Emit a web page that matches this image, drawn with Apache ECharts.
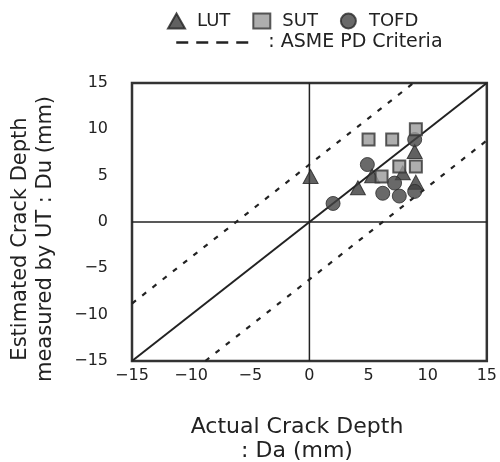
<!DOCTYPE html>
<html>
<head>
<meta charset="utf-8">
<script src="https://cdn.jsdelivr.net/npm/echarts@6/dist/echarts.min.js"></script>
<style>html,body{margin:0;padding:0;background:#fff}#c{width:500px;height:462px}</style>
</head>
<body>
<div id="c"></div>
<script>
// Axis range and ticks
var axisMin = -15, axisMax = 15, tickStep = 5;
// Measured points [Da, Du]
var lutData  = [[0.1, 4.9], [4.1, 3.7], [5.3, 5.0], [8.9, 7.6], [9.0, 4.3], [7.9, 5.3]];
var sutData  = [[5.0, 8.9], [7.0, 8.9], [9.0, 10.0], [7.6, 6.0], [9.0, 6.0], [6.1, 4.9]];
var tofdData = [[2.0, 2.0], [4.9, 6.2], [8.9, 8.9], [6.2, 3.1], [7.6, 2.8], [7.2, 4.2], [8.9, 3.3]];
// Reference lines
var equalLine = [[-15, -15], [15, 15]];
var pdUpper   = [[-15, -8.8], [8.8, 15]];
var pdLower   = [[-8.8, -15], [15, 8.8]];
var zeroH     = [[-15, 0], [15, 0]];
var zeroV     = [[0, -15], [0, 15]];

var FONT = 'DejaVu Sans';
var chart = echarts.init(document.getElementById('c'), null, {renderer: 'canvas'});
function minusFmt(v) { return String(v).replace('-', '\u2212'); }
function refLine(name, data, type, width) {
  return {name: name, type: 'line', data: data, symbol: 'none', showSymbol: false, silent: true, z: 1,
    itemStyle: {color: '#222'},
    lineStyle: {color: '#222', width: width, type: type}, animation: false};
}
chart.setOption({
  animation: false,
  grid: {left: 132, right: 10, top: 83, bottom: 101, show: true, borderColor: '#333', borderWidth: 2.5, backgroundColor: 'transparent'},
  xAxis: {type: 'value', min: axisMin, max: axisMax, interval: tickStep,
    axisLine: {show: false}, axisTick: {show: false}, splitLine: {show: false},
    axisLabel: {margin: 7, fontFamily: FONT, fontSize: 16, color: '#222', formatter: minusFmt}},
  yAxis: {type: 'value', min: axisMin, max: axisMax, interval: tickStep,
    axisLine: {show: false}, axisTick: {show: false}, splitLine: {show: false},
    axisLabel: {margin: 24, fontFamily: FONT, fontSize: 16, color: '#222', formatter: minusFmt}},
  legend: [
    {data: ['LUT', 'SUT', 'TOFD'], left: 162, top: 7, itemWidth: 17, itemHeight: 15, itemGap: 22,
      textStyle: {fontFamily: FONT, fontSize: 18, color: '#222', padding: [0, 0, 0, 7]}, selectedMode: false},
    {data: [{name: 'ASME PD Criteria', itemStyle: {opacity: 0}}], left: 170, top: 28, itemWidth: 80, itemHeight: 20,
      itemStyle: {opacity: 0},
      lineStyle: {type: [12, 8], width: 2.5, color: '#222'},
      formatter: function () { return ': ASME PD Criteria'; },
      textStyle: {fontFamily: FONT, fontSize: 19, color: '#222', padding: [0, 0, 0, 7]}, selectedMode: false}
  ],
  graphic: [
    {type: 'text', style: {text: 'Actual Crack Depth', x: 297, y: 427, fontFamily: FONT, fontSize: 22, fill: '#222', align: 'center', verticalAlign: 'middle'}},
    {type: 'text', style: {text: ': Da (mm)', x: 297, y: 451, fontFamily: FONT, fontSize: 22, fill: '#222', align: 'center', verticalAlign: 'middle'}},
    {type: 'text', x: 21, y: 239, rotation: Math.PI / 2, style: {text: 'Estimated Crack Depth', x: 0, y: 0, fontFamily: FONT, fontSize: 21, fill: '#222', align: 'center', verticalAlign: 'middle'}},
    {type: 'text', x: 46, y: 239, rotation: Math.PI / 2, style: {text: 'measured by UT : Du (mm)', x: 0, y: 0, fontFamily: FONT, fontSize: 21, fill: '#222', align: 'center', verticalAlign: 'middle'}}
  ],
  series: [
    refLine('zeroH', zeroH, 'solid', 1.5),
    refLine('zeroV', zeroV, 'solid', 1.5),
    refLine('equal', equalLine, 'solid', 2),
    refLine('ASME PD Criteria', pdUpper, [5, 8], 2.2),
    refLine('ASME PD Criteria', pdLower, [5, 8], 2.2),
    {name: 'LUT', type: 'scatter', data: lutData, symbol: 'triangle', symbolSize: [15, 14], z: 3,
      itemStyle: {color: '#3a3a3a', borderColor: '#222', borderWidth: 1}},
    {name: 'TOFD', type: 'scatter', data: tofdData, symbol: 'circle', symbolSize: 14, z: 4,
      itemStyle: {color: '#444', borderColor: '#2a2a2a', borderWidth: 1}},
    {name: 'SUT', type: 'scatter', data: sutData, symbol: 'rect', symbolSize: 12, z: 5,
      itemStyle: {color: '#9a9a9a', borderColor: '#333', borderWidth: 2}}
  ]
});
</script>
</body>
</html>
